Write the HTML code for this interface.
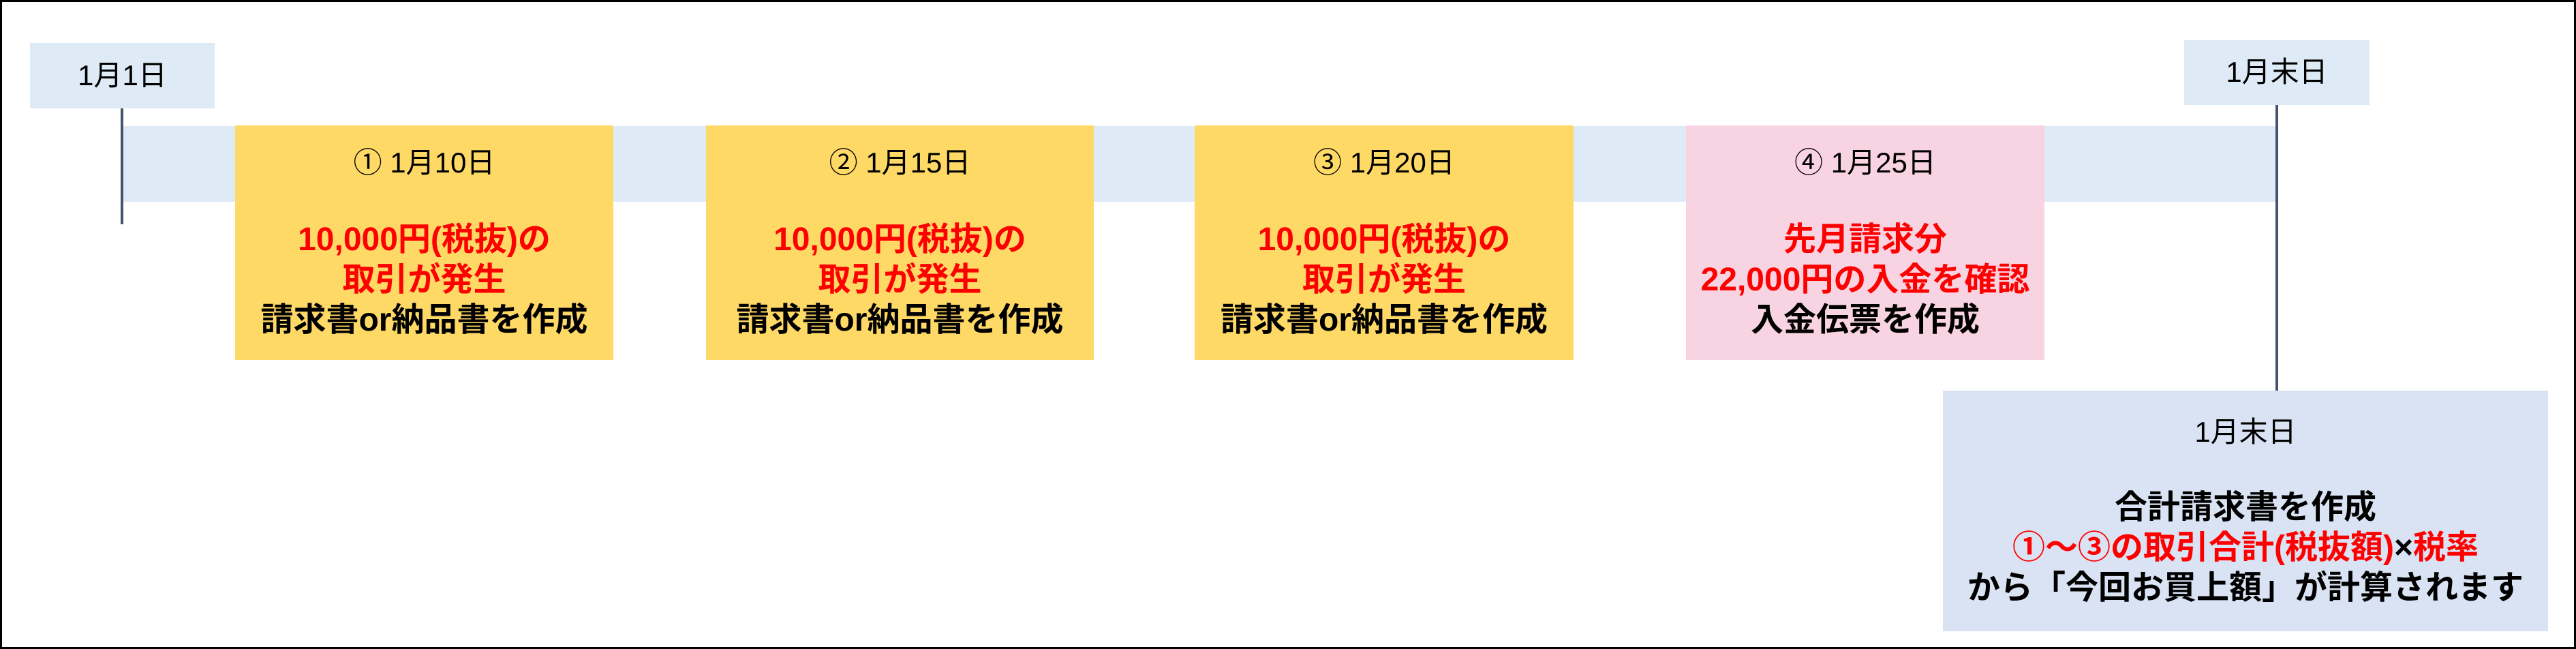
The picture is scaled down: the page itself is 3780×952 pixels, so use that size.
<!DOCTYPE html>
<html><head><meta charset="utf-8"><style>
*{margin:0;padding:0;box-sizing:border-box}
body{width:3780px;height:952px;background:#fff;position:relative;overflow:hidden;font-family:"Liberation Sans","Noto Sans CJK JP",sans-serif;color:#000}
.frame{position:absolute;left:0;top:0;width:3780px;height:952px;border:3px solid #000}
.a{position:absolute}
.box{position:absolute;text-align:center}
.d{position:absolute;left:0;right:0;text-align:center;font-size:42px;line-height:50px}
.t{position:absolute;left:0;right:0;text-align:center;font-size:48px;font-weight:bold;line-height:59px}
.r{color:#f00}
</style></head><body>
<div class="frame"></div>
<div class="a" style="left:179px;top:185px;width:3162px;height:111px;background:#DEEAF6"></div>
<div class="box" style="left:44px;top:63px;width:271px;height:96px;background:#DEEAF6"><div class="d" style="top:23px">1月1日</div></div>
<div class="a" style="left:177px;top:159px;width:4px;height:170px;background:#44546A"></div>
<div class="box" style="left:3205px;top:59px;width:272px;height:95px;background:#DEEAF6"><div class="d" style="top:22px">1月末日</div></div>
<div class="a" style="left:3339px;top:154px;width:4px;height:419px;background:#44546A"></div>

<div class="box" style="left:345px;top:184px;width:555px;height:344px;background:#FFD966">
<div class="d" style="top:30px">① 1月10日</div>
<div class="t r" style="top:138px">10,000円(税抜)の<br>取引が発生</div>
<div class="t" style="top:256px">請求書or納品書を作成</div></div>

<div class="box" style="left:1036px;top:184px;width:569px;height:344px;background:#FFD966">
<div class="d" style="top:30px">② 1月15日</div>
<div class="t r" style="top:138px">10,000円(税抜)の<br>取引が発生</div>
<div class="t" style="top:256px">請求書or納品書を作成</div></div>

<div class="box" style="left:1753px;top:184px;width:556px;height:344px;background:#FFD966">
<div class="d" style="top:30px">③ 1月20日</div>
<div class="t r" style="top:138px">10,000円(税抜)の<br>取引が発生</div>
<div class="t" style="top:256px">請求書or納品書を作成</div></div>

<div class="box" style="left:2474px;top:184px;width:526px;height:344px;background:#F8D3E2">
<div class="d" style="top:30px">④ 1月25日</div>
<div class="t r" style="top:138px">先月請求分<br>22,000円の入金を確認</div>
<div class="t" style="top:256px">入金伝票を作成</div></div>

<div class="box" style="left:2851px;top:573px;width:888px;height:353px;background:#DAE3F3">
<div class="d" style="top:36px">1月末日</div>
<div class="t" style="top:142px">合計請求書を作成</div>
<div class="t" style="top:201px"><span class="r">①～③の取引合計(税抜額)</span>×<span class="r">税率</span></div>
<div class="t" style="top:260px">から「今回お買上額」が計算されます</div></div>
</body></html>
